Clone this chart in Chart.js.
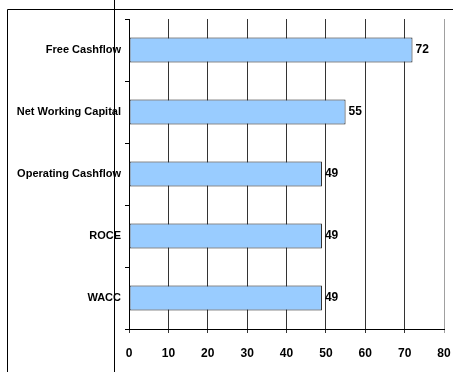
<!DOCTYPE html>
<html>
<head>
<meta charset="utf-8">
<script src="https://cdn.jsdelivr.net/npm/chart.js@4"></script>
<style>
    html, body { margin: 0; padding: 0; background: #fff; }
    #wrap { width: 453px; height: 372px; position: relative; }
</style>
</head>
<body>
<div id="wrap"><canvas id="kpiChart"></canvas></div>
<script>
const categories = ['Free Cashflow', 'Net Working Capital', 'Operating Cashflow', 'ROCE', 'WACC'];
const scores = [72, 55, 49, 49, 49];
const xTicks = [0, 10, 20, 30, 40, 50, 60, 70, 80];

const FONT = "'Liberation Sans', Arial, sans-serif";

// value labels at the end of each bar
const valueLabels = {
    id: 'valueLabels',
    afterDatasetsDraw(chart) {
        const ctx = chart.ctx;
        const meta = chart.getDatasetMeta(0);
        ctx.save();
        ctx.font = 'bold 12px ' + FONT;
        ctx.fillStyle = '#000';
        ctx.textAlign = 'left';
        ctx.textBaseline = 'middle';
        meta.data.forEach((bar, i) => {
            ctx.fillText(String(scores[i]), bar.x + 3, bar.y);
        });
        ctx.restore();
    }
};

// outer frame and the stray divider line
const frame = {
    id: 'frame',
    afterDraw(chart) {
        const ctx = chart.ctx;
        ctx.save();
        ctx.strokeStyle = '#000';
        ctx.lineWidth = 1;
        ctx.beginPath();
        ctx.moveTo(7.5, chart.height);
        ctx.lineTo(7.5, 9.5);
        ctx.lineTo(chart.width, 9.5);
        ctx.moveTo(114.5, 0);
        ctx.lineTo(114.5, chart.height);
        ctx.stroke();
        ctx.restore();
    }
};

new Chart(document.getElementById('kpiChart'), {
    type: 'bar',
    data: {
        labels: categories,
        datasets: [{
            data: scores,
            backgroundColor: '#99ccff',
            borderColor: '#1a1a1a',
            borderWidth: 1,
            borderSkipped: false,
            categoryPercentage: 0.8,
            barPercentage: 0.5
        }]
    },
    options: {
        indexAxis: 'y',
        responsive: true,
        maintainAspectRatio: false,
        animation: false,
        layout: { padding: { left: 0, top: 19, right: 9, bottom: 0 } },
        plugins: {
            legend: { display: false },
            tooltip: { enabled: false }
        },
        scales: {
            x: {
                min: 0,
                max: 80,
                afterBuildTicks: scale => { scale.ticks = xTicks.map(v => ({ value: v })); },
                afterFit: scale => {
                    scale.height = 43;
                    // tick padding would otherwise widen the side gutters
                    scale.paddingLeft = 0;
                    scale.paddingRight = 0;
                },
                border: { display: true, color: '#000', width: 1 },
                grid: {
                    color: c => (c.tick && c.tick.value === 80 ? '#a0a0a0' : '#333'),
                    tickLength: 4
                },
                ticks: {
                    color: '#000',
                    padding: 13,
                    font: { family: FONT, size: 12, weight: 'bold' }
                }
            },
            y: {
                afterFit: scale => { scale.width = 129; },
                border: { display: true, color: '#000', width: 1 },
                grid: {
                    drawOnChartArea: false,
                    color: '#000',
                    tickLength: 4,
                    offset: true
                },
                ticks: {
                    color: '#000',
                    padding: 4,
                    font: { family: FONT, size: 11, weight: 'bold' }
                }
            }
        }
    },
    plugins: [valueLabels, frame]
});
</script>
</body>
</html>
